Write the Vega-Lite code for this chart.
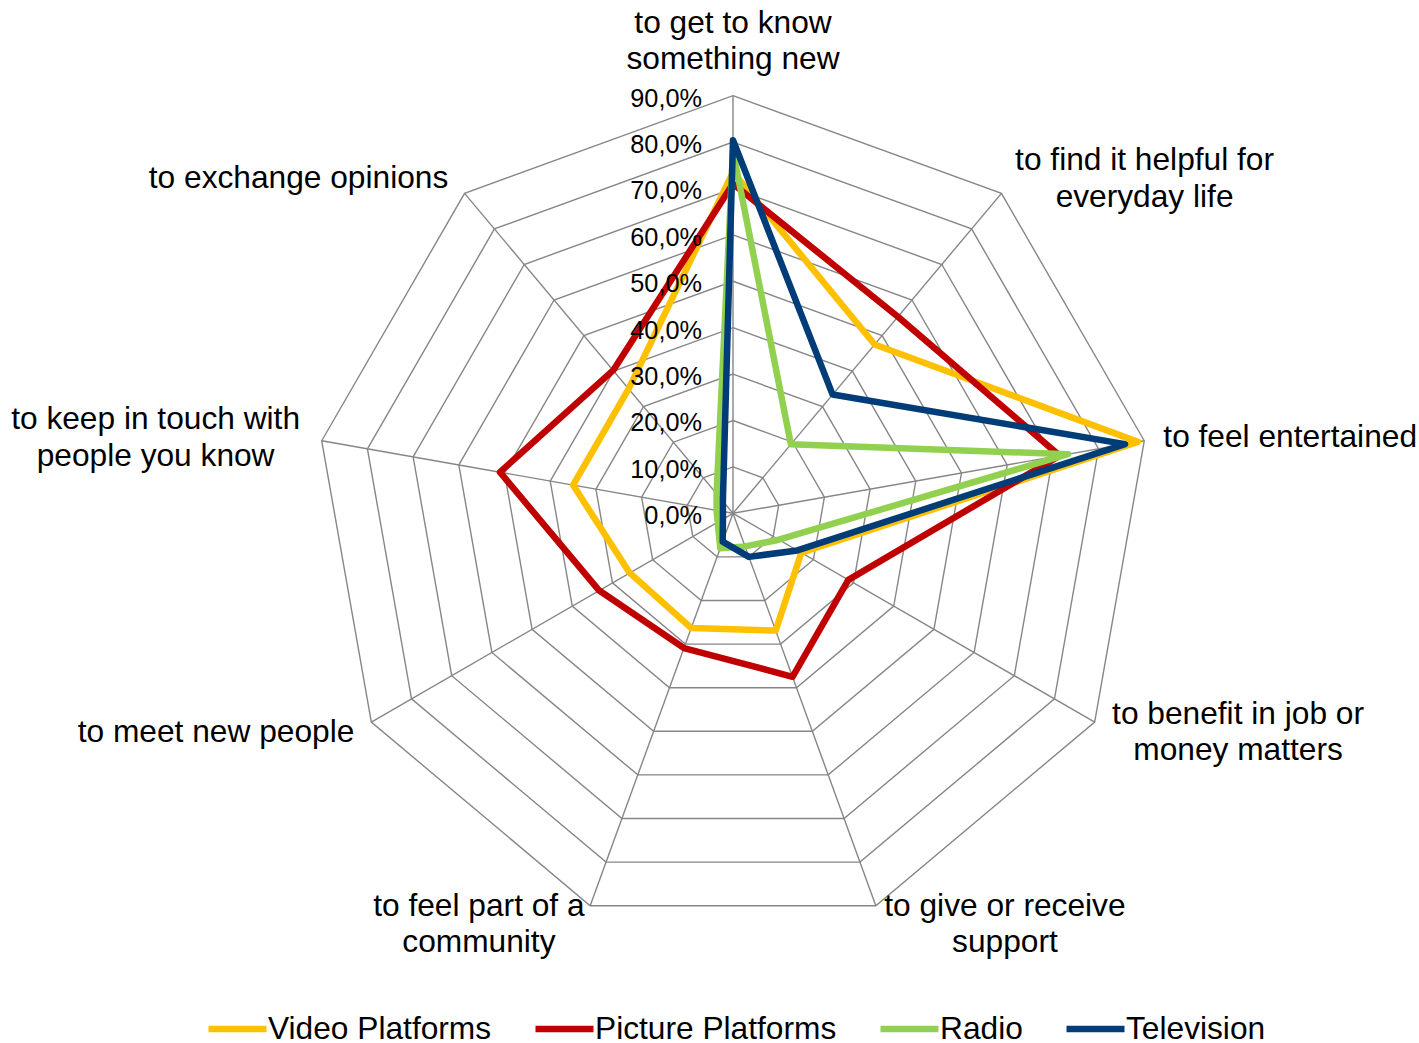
{
  "$schema": "https://vega.github.io/schema/vega-lite/v6.json",
  "width": 1419,
  "height": 1043,
  "autosize": {"type": "none"},
  "padding": 0,
  "background": "white",
  "config": {"view": {"stroke": null}, "font": "Liberation Sans"},
  "datasets": {
    "cats": [
      {"category": "to get to know\nsomething new"},
      {"category": "to find it helpful for\neveryday life"},
      {"category": "to feel entertained"},
      {"category": "to benefit in job or\nmoney matters"},
      {"category": "to give or receive\nsupport"},
      {"category": "to feel part of a\ncommunity"},
      {"category": "to meet new people"},
      {"category": "to keep in touch with\npeople you know"},
      {"category": "to exchange opinions"}
    ],
    "ticks": [
      {"t": 0, "label": "0,0%"},
      {"t": 10, "label": "10,0%"},
      {"t": 20, "label": "20,0%"},
      {"t": 30, "label": "30,0%"},
      {"t": 40, "label": "40,0%"},
      {"t": 50, "label": "50,0%"},
      {"t": 60, "label": "60,0%"},
      {"t": 70, "label": "70,0%"},
      {"t": 80, "label": "80,0%"},
      {"t": 90, "label": "90,0%"}
    ],
    "vals": [
      {"series": "Video Platforms", "category": "to get to know something new", "value": 73.5},
      {"series": "Video Platforms", "category": "to find it helpful for everyday life", "value": 47.5},
      {"series": "Video Platforms", "category": "to feel entertained", "value": 88.6},
      {"series": "Video Platforms", "category": "to benefit in job or money matters", "value": 17},
      {"series": "Video Platforms", "category": "to give or receive support", "value": 26.9},
      {"series": "Video Platforms", "category": "to feel part of a community", "value": 26.3},
      {"series": "Video Platforms", "category": "to meet new people", "value": 25.7},
      {"series": "Video Platforms", "category": "to keep in touch with people you know", "value": 35},
      {"series": "Video Platforms", "category": "to exchange opinions", "value": 35},
      {"series": "Picture Platforms", "category": "to get to know something new", "value": 71},
      {"series": "Picture Platforms", "category": "to find it helpful for everyday life", "value": 55.3},
      {"series": "Picture Platforms", "category": "to feel entertained", "value": 71.5},
      {"series": "Picture Platforms", "category": "to benefit in job or money matters", "value": 28.7},
      {"series": "Picture Platforms", "category": "to give or receive support", "value": 37.5},
      {"series": "Picture Platforms", "category": "to feel part of a community", "value": 30.9},
      {"series": "Picture Platforms", "category": "to meet new people", "value": 33.3},
      {"series": "Picture Platforms", "category": "to keep in touch with people you know", "value": 51},
      {"series": "Picture Platforms", "category": "to exchange opinions", "value": 40.2},
      {"series": "Radio", "category": "to get to know something new", "value": 78},
      {"series": "Radio", "category": "to find it helpful for everyday life", "value": 19.4},
      {"series": "Radio", "category": "to feel entertained", "value": 73.3},
      {"series": "Radio", "category": "to benefit in job or money matters", "value": 11.4},
      {"series": "Radio", "category": "to give or receive support", "value": 7.6},
      {"series": "Radio", "category": "to feel part of a community", "value": 8},
      {"series": "Radio", "category": "to meet new people", "value": 3.8},
      {"series": "Radio", "category": "to keep in touch with people you know", "value": 3.6},
      {"series": "Radio", "category": "to exchange opinions", "value": 5.5},
      {"series": "Television", "category": "to get to know something new", "value": 80.4},
      {"series": "Television", "category": "to find it helpful for everyday life", "value": 33.4},
      {"series": "Television", "category": "to feel entertained", "value": 85.8},
      {"series": "Television", "category": "to benefit in job or money matters", "value": 16},
      {"series": "Television", "category": "to give or receive support", "value": 10},
      {"series": "Television", "category": "to feel part of a community", "value": 6.5},
      {"series": "Television", "category": "to meet new people", "value": 2.5},
      {"series": "Television", "category": "to keep in touch with people you know", "value": 2.2},
      {"series": "Television", "category": "to exchange opinions", "value": 3.4}
    ]
  },
  "encoding": {
    "x": {"field": "px", "type": "quantitative", "scale": {"domain": [-157.97, 147.84], "nice": false, "zero": false}, "axis": null},
    "y": {"field": "py", "type": "quantitative", "scale": {"domain": [-114.16, 110.62], "nice": false, "zero": false}, "axis": null}
  },
  "layer": [
    {
      "data": {"name": "cats"},
      "transform": [
        {"window": [{"op": "row_number", "as": "k"}]},
        {"calculate": "(datum.k - 1) * 2 * PI / 9", "as": "a"},
        {"calculate": "[10, 20, 30, 40, 50, 60, 70, 80, 90]", "as": "lv"},
        {"flatten": ["lv"]},
        {"calculate": "datum.lv * sin(datum.a)", "as": "px"},
        {"calculate": "datum.lv * cos(datum.a)", "as": "py"}
      ],
      "mark": {"type": "line", "interpolate": "linear-closed", "stroke": "#868686", "strokeWidth": 1.4},
      "encoding": {
        "detail": {"field": "lv", "type": "nominal"},
        "order": {"field": "k", "type": "quantitative"}
      }
    },
    {
      "data": {"name": "cats"},
      "transform": [
        {"window": [{"op": "row_number", "as": "k"}]},
        {"calculate": "(datum.k - 1) * 2 * PI / 9", "as": "a"},
        {"calculate": "0", "as": "px"},
        {"calculate": "0", "as": "py"},
        {"calculate": "90 * sin(datum.a)", "as": "ex"},
        {"calculate": "90 * cos(datum.a)", "as": "ey"}
      ],
      "mark": {"type": "rule", "stroke": "#868686", "strokeWidth": 1.4},
      "encoding": {
        "x2": {"field": "ex"},
        "y2": {"field": "ey"}
      }
    },
    {
      "data": {"name": "vals"},
      "transform": [
        {"window": [{"op": "row_number", "as": "k"}], "groupby": ["series"]},
        {"calculate": "(datum.k - 1) * 2 * PI / 9", "as": "a"},
        {"calculate": "datum.value * sin(datum.a)", "as": "px"},
        {"calculate": "datum.value * cos(datum.a)", "as": "py"}
      ],
      "mark": {"type": "line", "interpolate": "linear-closed", "strokeWidth": 6.5, "strokeJoin": "round"},
      "encoding": {
        "color": {
          "field": "series",
          "type": "nominal",
          "scale": {
            "domain": ["Video Platforms", "Picture Platforms", "Radio", "Television"],
            "range": ["#FFC000", "#C00000", "#92D050", "#003C78"]
          },
          "legend": {
            "title": null,
            "orient": "none",
            "legendX": 205,
            "legendY": 996,
            "direction": "horizontal",
            "padding": 0,
            "symbolType": "stroke",
            "symbolSize": 3364,
            "symbolStrokeWidth": 6.5,
            "labelFontSize": 31.7,
            "labelFont": "Liberation Sans",
            "labelColor": "#000000",
            "labelOffset": -2,
            "columnPadding": 30,
            "labelLimit": 400
          }
        },
        "order": {"field": "k", "type": "quantitative"}
      }
    },
    {
      "data": {"name": "ticks"},
      "transform": [
        {"calculate": "0", "as": "px"},
        {"calculate": "datum.t", "as": "py"}
      ],
      "mark": {"type": "text", "align": "right", "baseline": "middle", "dx": -31, "dy": 3, "fontSize": 25.3, "color": "#000000"},
      "encoding": {
        "text": {"field": "label", "type": "nominal"}
      }
    },
    {
      "data": {"name": "cats"},
      "transform": [
        {"window": [{"op": "row_number", "as": "k"}]},
        {"calculate": "(datum.k - 1) * 2 * PI / 9", "as": "a"},
        {"calculate": "sin(datum.a)", "as": "s"},
        {"calculate": "cos(datum.a)", "as": "c"},
        {"calculate": "indexof(datum.category, '\\n')", "as": "br"},
        {"calculate": "datum.br < 0 ? datum.category : substring(datum.category, 0, datum.br)", "as": "l1"},
        {"calculate": "datum.br < 0 ? '' : substring(datum.category, datum.br + 1)", "as": "l2"},
        {"calculate": "length(datum.l1) * 17.6 - 9 * length(replace(datum.l1, regexp('[^tfijlr ]', 'g'), '')) + 8.8 * length(replace(datum.l1, regexp('[^m]', 'g'), '')) + 5.3 * length(replace(datum.l1, regexp('[^w]', 'g'), ''))", "as": "w1"},
        {"calculate": "length(datum.l2) * 17.6 - 9 * length(replace(datum.l2, regexp('[^tfijlr ]', 'g'), '')) + 8.8 * length(replace(datum.l2, regexp('[^m]', 'g'), '')) + 5.3 * length(replace(datum.l2, regexp('[^w]', 'g'), ''))", "as": "w2"},
        {"calculate": "max(datum.w1, datum.w2) / 2 / 4.64", "as": "hw"},
        {"calculate": "94.2 * datum.s + (datum.s > 0.1 ? datum.hw : (datum.s < -0.1 ? -datum.hw : 0))", "as": "px"},
        {"calculate": "94.2 * datum.c + (datum.br >= 0 ? 3.94 : 0) + (abs(datum.s) < 0.1 ? 7.6 * datum.c : 0)", "as": "py"}
      ],
      "mark": {"type": "text", "align": "center", "baseline": "middle", "fontSize": 31.7, "lineHeight": 36.6, "lineBreak": "\n", "color": "#000000"},
      "encoding": {
        "text": {"field": "category", "type": "nominal"}
      }
    }
  ]
}
